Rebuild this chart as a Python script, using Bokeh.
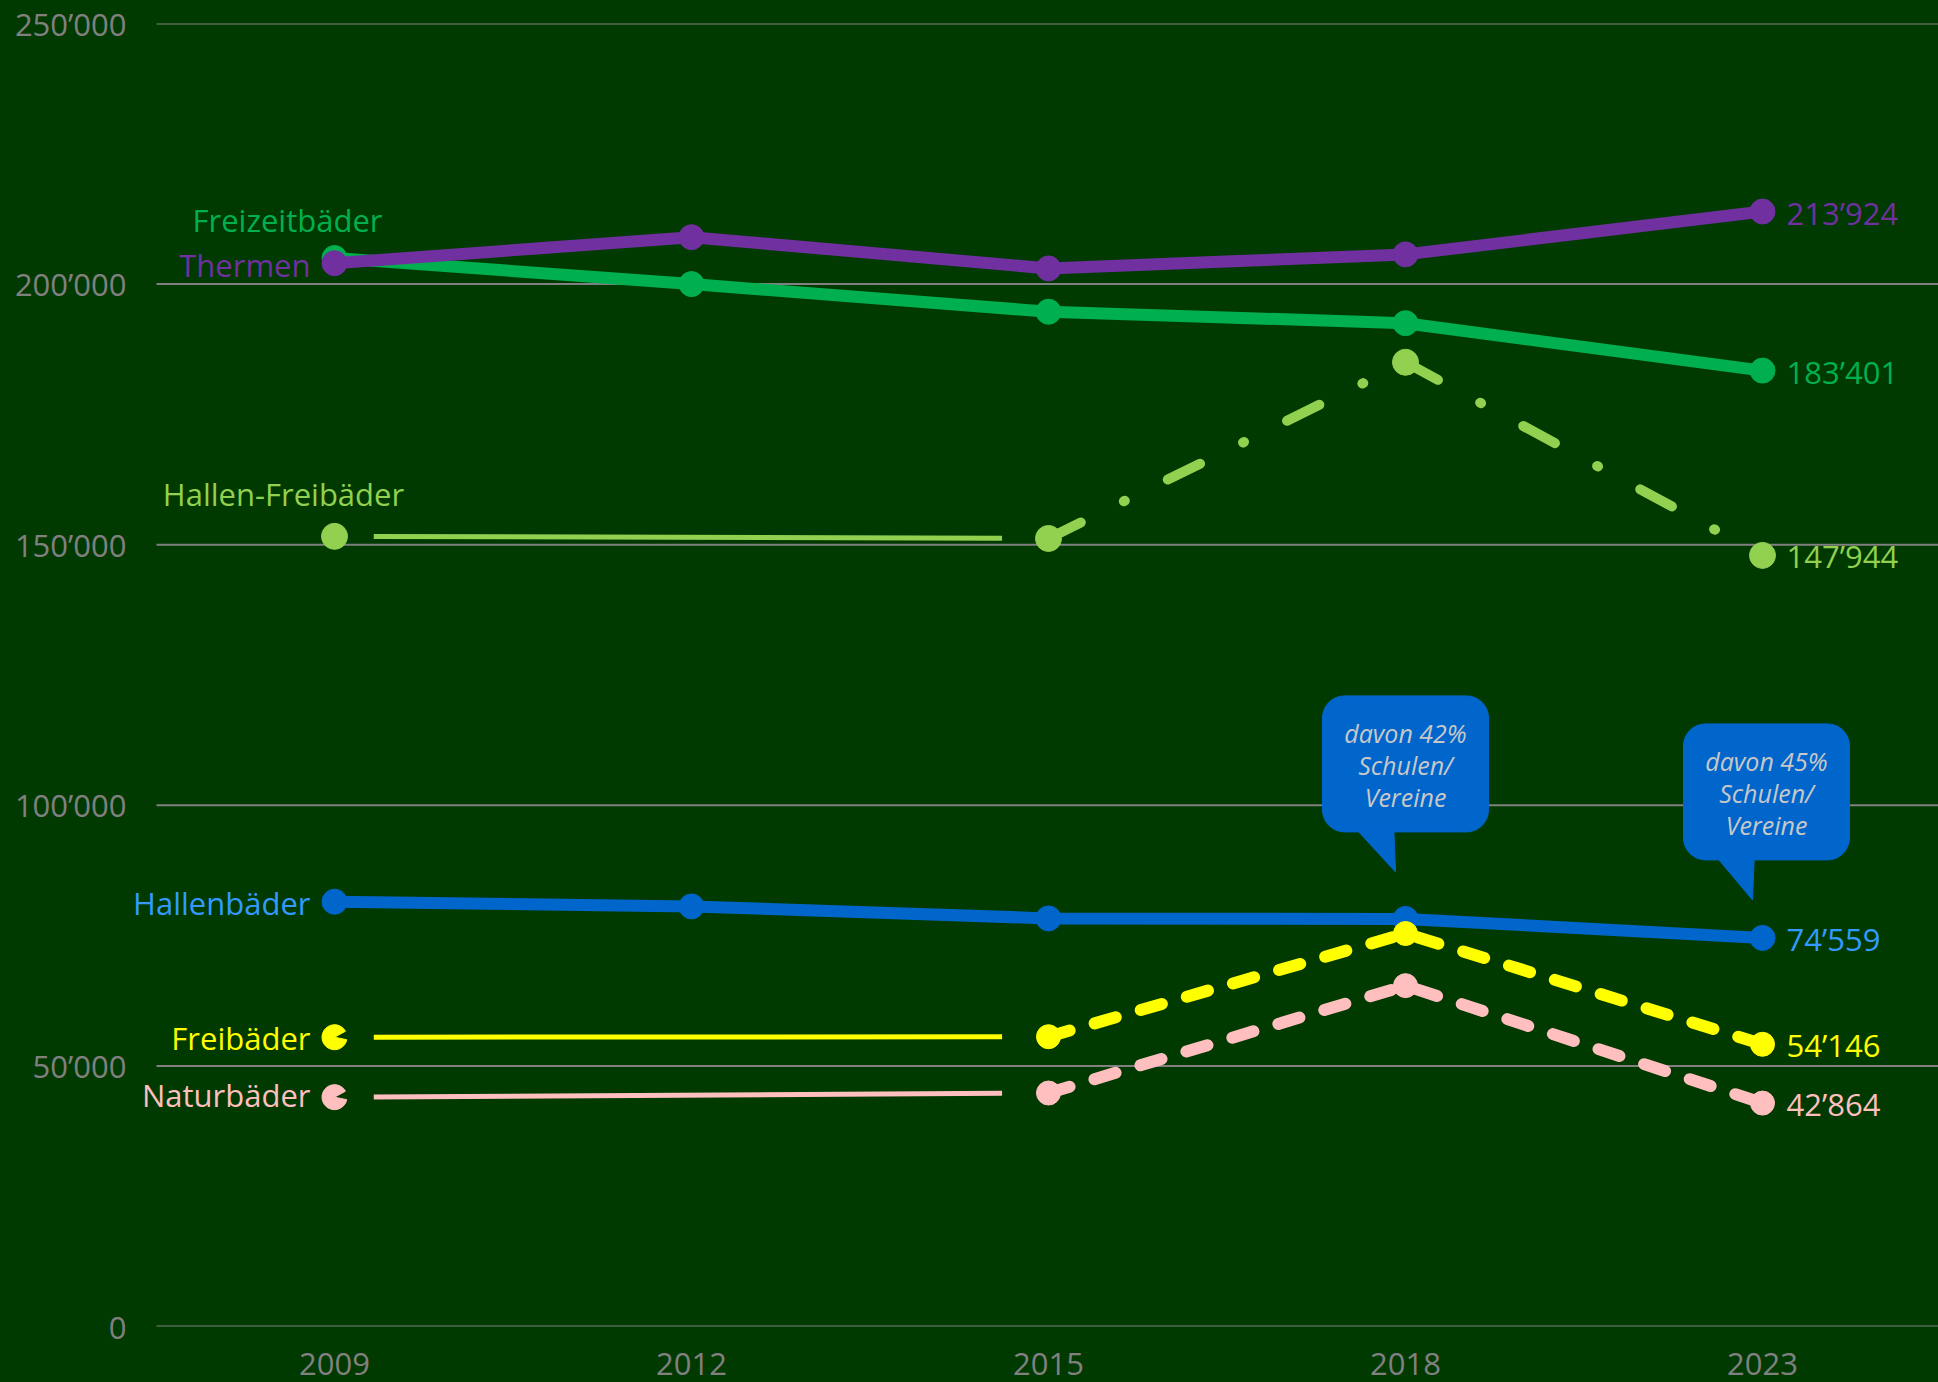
from bokeh.plotting import figure
from bokeh.models import Range1d, FixedTicker
from bokeh.core.properties import value
from bokeh.embed import file_html
from bokeh.resources import INLINE

# ---------------- data ----------------
years = ["2009", "2012", "2015", "2018", "2023"]
thermen = [204000, 209000, 203000, 205700, 213924]
freizeit = [205000, 200000, 194700, 192500, 183401]
hallen_frei = [151600, None, 151200, 185000, 147944]
hallen = [81500, 80600, 78300, 78200, 74559]
frei = [55500, None, 55600, 75400, 54146]
natur = [44000, None, 44800, 65400, 42864]
yticks = [0, 50000, 100000, 150000, 200000, 250000]
callout_years = ["2018", "2023"]
callout_lines = [["davon 42%", "Schulen/", "Vereine"],
                 ["davon 45%", "Schulen/", "Vereine"]]

# ---------------- style ----------------
BG = "#003A00"
GRID = "#808080"
FONT = "Open Sans"
C_TH, C_FZ, C_HF = "#7030A0", "#00B050", "#92D050"
C_HB, C_HB_TXT, C_FB, C_NB = "#0066CC", "#3399FF", "#FFFF00", "#FFBFBF"

YMAX = 250000
FRAME_H = 1303
XPX = 357.0
LEFT = 132           # frame left edge (px)
X0_PX = 334 - LEFT   # first category from frame left
GRID_START = 156 - LEFT


def dy(px):
    return px * YMAX / FRAME_H


def dx(px):
    return px / XPX


def fmt(v):
    return f"{v:,}".replace(",", "\u2019")


xs = list(range(len(years)))
x_lo = -X0_PX / XPX
x_hi = (1938 - 334) / XPX

p = figure(width=1938, height=1382, x_range=Range1d(x_lo, x_hi),
           y_range=Range1d(0, YMAX), output_backend="svg",
           toolbar_location=None, background_fill_color=BG,
           border_fill_color=BG, min_border_left=LEFT, min_border_top=23,
           min_border_right=0, min_border_bottom=56)
p.outline_line_color = None
p.styles = {"background-color": BG}

# axes
p.yaxis.ticker = FixedTicker(ticks=yticks)
p.yaxis.major_label_overrides = {t: fmt(t) for t in yticks}
p.xaxis.ticker = FixedTicker(ticks=xs)
p.xaxis.major_label_overrides = {i: y for i, y in enumerate(years)}
for ax in (p.xaxis, p.yaxis):
    ax.axis_line_color = None
    ax.major_tick_line_color = None
    ax.minor_tick_line_color = None
    ax.major_label_text_color = GRID
    ax.major_label_text_font = FONT
    ax.major_label_text_font_size = "31px"
p.yaxis.major_label_standoff = 0
p.xaxis.major_label_standoff = 20
p.xgrid.grid_line_color = None
p.ygrid.grid_line_color = None

# horizontal grid lines, starting a little right of the value labels
g0 = x_lo + dx(GRID_START)
p.segment(x0=[g0] * len(yticks), y0=yticks, x1=[x_hi] * len(yticks),
          y1=yticks, line_color=GRID, line_width=2)


def thin_segment(vals, color, width):
    x0, x1 = 0 + 0.11, 2 - 0.13
    v0, v2 = vals[0], vals[2]
    ya = v0 + (v2 - v0) * x0 / 2
    yb = v0 + (v2 - v0) * x1 / 2
    p.line([x0, x1], [ya, yb], line_color=color, line_width=width)


# Freizeitbäder
p.line(xs, freizeit, line_color=C_FZ, line_width=12, line_join="round")
p.scatter(xs, freizeit, size=25, color=C_FZ)
# Thermen
p.line(xs, thermen, line_color=C_TH, line_width=12, line_join="round")
p.scatter(xs, thermen, size=25, color=C_TH)

# Hallen-Freibäder
thin_segment(hallen_frei, C_HF, 5)
p.line(xs[2:], hallen_frei[2:], line_color=C_HF, line_width=10,
       line_dash="36 48 1 48", line_cap="round", line_join="round")
hf_x = [x for x, v in zip(xs, hallen_frei) if v is not None]
hf_y = [v for v in hallen_frei if v is not None]
p.scatter(hf_x, hf_y, size=26, color=C_HF)

# Hallenbäder
p.line(xs, hallen, line_color=C_HB, line_width=12, line_join="round")
p.scatter(xs, hallen, size=25, color=C_HB)

# Freibäder & Naturbäder
for vals, col in ((frei, C_FB), (natur, C_NB)):
    thin_segment(vals, col, 5)
    p.line(xs[2:], vals[2:], line_color=col, line_width=12,
           line_dash="22 26", line_cap="round", line_join="round")
    p.scatter(xs[2:], vals[2:], size=24, color=col)
    p.wedge(x=[xs[0]], y=[vals[0]], radius=12.5, radius_units="screen",
            start_angle=0.5, end_angle=-0.2, color=col)


def label(x, y, txt, col, xo, yo=0, align="right"):
    p.text(x=[x], y=[y], text=[txt], text_color=col,
           text_font=value(FONT), text_font_size="31px",
           text_align=align, text_baseline="middle",
           x_offset=xo, y_offset=yo)


# series names at 2009
label(0, freizeit[0], "Freizeitbäder", C_FZ, -47, -38, "center")
label(0, thermen[0], "Thermen", C_TH, -24, 2)
label(0, hallen_frei[0], "Hallen-Freibäder", C_HF, -51, -42, "center")
label(0, hallen[0], "Hallenbäder", C_HB_TXT, -24, 1)
label(0, frei[0], "Freibäder", C_FB, -24, 1)
label(0, natur[0], "Naturbäder", C_NB, -24, -2)

# end values at 2023
last = len(xs) - 1
for vals, col in ((thermen, C_TH), (freizeit, C_FZ), (hallen_frei, C_HF),
                  (hallen, C_HB_TXT), (frei, C_FB), (natur, C_NB)):
    label(last, vals[last], fmt(vals[last]), col, 24, 1, "left")

# callouts for Hallenbäder
box_up = [155, 146]
tip_up = [47, 38]
box_dx = [0, 4]
for k, yr in enumerate(callout_years):
    i = years.index(yr)
    cx = i + dx(box_dx[k])
    cy = hallen[i] + dy(box_up[k])
    p.patch([cx - dx(56), i - dx(10), cx - dx(12)],
            [cy - dy(58), hallen[i] + dy(tip_up[k]), cy - dy(58)],
            color=C_HB)
    p.rect(x=[cx], y=[cy], width=166, height=136, width_units="screen",
           height_units="screen", color=C_HB, border_radius=22)
    for j, (t, off) in enumerate(zip(callout_lines[k], (-31, 1, 33))):
        p.text(x=[cx], y=[cy], text=[t], text_color="#C8C8C8",
               text_font=value(FONT), text_font_size="25px",
               text_font_style="italic", text_align="center",
               text_baseline="middle", y_offset=off)

open("out.html", "w").write(file_html(p, INLINE))
